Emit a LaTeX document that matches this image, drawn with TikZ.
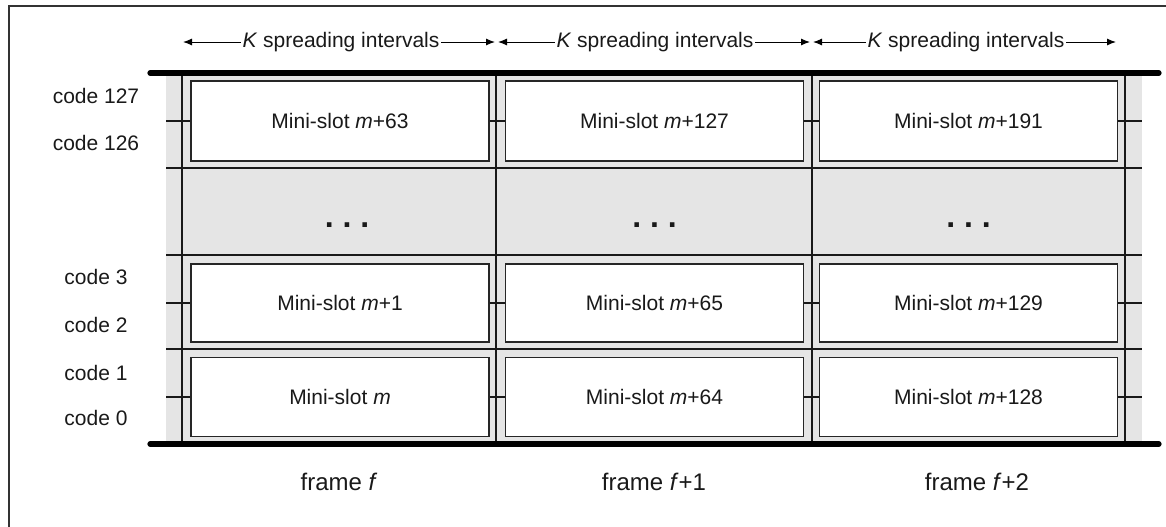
\documentclass[tikz,border=0pt]{standalone}
\usepackage{fontspec}
\setmainfont{Liberation Sans}
\usetikzlibrary{arrows.meta}
\begin{document}
\begin{tikzpicture}[x=0.5pt,y=-0.5pt,
  every node/.style={font=\fontsize{10.5}{12}\selectfont, inner sep=0pt, text=black!90},
  slotbox/.style={draw=black!85, line width=0.6pt, fill=white, minimum width=149pt, minimum height=39.5pt},
  thinline/.style={draw=black!90, line width=0.55pt},
  thickline/.style={draw=black, line width=2.6pt, line cap=round},
  arr/.style={draw=black, line width=0.5pt, -{Latex[length=4.5pt,width=3.5pt]}},
  spanlabel/.style={fill=white, inner sep=0.6pt},
  codelabel/.style={anchor=center},
  framelabel/.style={font=\fontsize{12}{14}\selectfont},
  dots/.style={font=\fontsize{16}{16}\selectfont\bfseries\frenchspacing}]
\useasboundingbox (0,0) rectangle (1166,526);
% outer border (left and top only visible)
\coordinate (bl) at (9,540);
\coordinate (tl) at (9,6);
\coordinate (tr) at (1180,6);
\draw[draw=black!80, line width=0.6pt] (bl) -- (tl) -- (tr);
% gray background
\fill[black!10] (166,73) rectangle (1142,444);
% horizontal row lines
\foreach \yy/\nm in {168/ra,255/rb,349/rc}{
  \coordinate (\nm l) at (166,\yy);
  \coordinate (\nm r) at (1142,\yy);
  \draw[thinline] (\nm l) -- (\nm r);
}
% vertical column lines
\foreach \xx/\nm in {182/va,496/vb,812/vc,1125/vd}{
  \coordinate (\nm t) at (\xx,73);
  \coordinate (\nm b) at (\xx,444);
  \draw[thinline] (\nm t) -- (\nm b);
}
% mini-slot boxes
\node[slotbox, minimum height=40pt] (b11) at (340,121) {Mini-slot \textit{m}+63};
\node[slotbox, minimum height=40pt] (b12) at (654.5,121) {Mini-slot \textit{m}+127};
\node[slotbox, minimum height=40pt] (b13) at (968.5,121) {Mini-slot \textit{m}+191};
\node[slotbox, minimum height=39pt] (b31) at (340,303) {Mini-slot \textit{m}+1};
\node[slotbox, minimum height=39pt] (b32) at (654.5,303) {Mini-slot \textit{m}+65};
\node[slotbox, minimum height=39pt] (b33) at (968.5,303) {Mini-slot \textit{m}+129};
\node[slotbox] (b41) at (340,397) {Mini-slot \textit{m}};
\node[slotbox] (b42) at (654.5,397) {Mini-slot \textit{m}+64};
\node[slotbox] (b43) at (968.5,397) {Mini-slot \textit{m}+128};
% ticks
\foreach \r/\yy in {1/121,3/303,4/397}{
  \coordinate (tl\r) at (166,\yy);
  \coordinate (tr\r) at (1142,\yy);
  \draw[thinline] (tl\r) -- (b\r1.west);
  \draw[thinline] (b\r1.east) -- (b\r2.west);
  \draw[thinline] (b\r2.east) -- (b\r3.west);
  \draw[thinline] (b\r3.east) -- (tr\r);
}
% dots
\node[dots] (d1) at (347,225) {. . .};
\node[dots] (d2) at (654.5,225) {. . .};
\node[dots] (d3) at (968.5,225) {. . .};
% thick top and bottom lines
\coordinate (tt1) at (150,73); \coordinate (tt2) at (1159,73);
\coordinate (bt1) at (150,444); \coordinate (bt2) at (1159,444);
\draw[thickline] (tt1) -- (tt2);
\draw[thickline] (bt1) -- (bt2);
% spreading interval arrows
\coordinate (a0) at (183,42);
\coordinate (a1l) at (495,42);
\coordinate (a1r) at (498,42);
\coordinate (a2l) at (810,42);
\coordinate (a2r) at (813,42);
\coordinate (a3) at (1116,42);
\node[spanlabel] (s1) at (341,42) {\textit{K} spreading intervals};
\node[spanlabel] (s2) at (655,42) {\textit{K} spreading intervals};
\node[spanlabel] (s3) at (966,42) {\textit{K} spreading intervals};
\draw[arr] (s1.west) -- (a0);
\draw[arr] (s1.east) -- (a1l);
\draw[arr] (s2.west) -- (a1r);
\draw[arr] (s2.east) -- (a2l);
\draw[arr] (s3.west) -- (a2r);
\draw[arr] (s3.east) -- (a3);
% code labels
\node[codelabel] (c127) at (96,96) {code 127};
\node[codelabel] (c126) at (96,143) {code 126};
\node[codelabel] (c3) at (96,277) {code 3};
\node[codelabel] (c2) at (96,325) {code 2};
\node[codelabel] (c1) at (96,373) {code 1};
\node[codelabel] (c0) at (96,418) {code 0};
% frame labels
\node[framelabel] (f0) at (339,482) {frame \textit{f}};
\node[framelabel] (f1) at (654,482) {frame \textit{f}+1};
\node[framelabel] (f2) at (977,482) {frame \textit{f}+2};
\end{tikzpicture}
\end{document}
